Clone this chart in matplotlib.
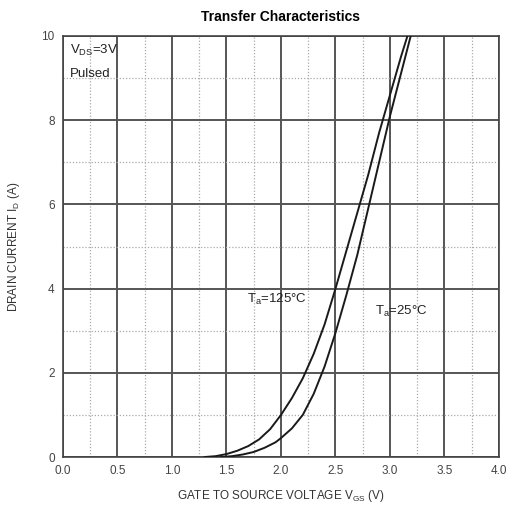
import numpy as np
import matplotlib
matplotlib.use("Agg")
import matplotlib.pyplot as plt
from matplotlib.ticker import MultipleLocator

plt.rcParams["font.family"] = ["Liberation Sans", "DejaVu Sans"]
plt.rcParams["mathtext.fontset"] = "custom"
plt.rcParams["mathtext.rm"] = "Liberation Sans"
plt.rcParams["mathtext.it"] = "Liberation Sans"

# ------------------------------------------------------------
# Data
# ------------------------------------------------------------
vgs_125 = [1.30, 1.40, 1.50, 1.60, 1.70, 1.80, 1.90, 2.00, 2.10, 2.20,
           2.30, 2.40, 2.50, 2.60, 2.70, 2.80, 2.90, 3.00, 3.10, 3.16]
id_125 = [0.0, 0.02, 0.07, 0.15, 0.26, 0.42, 0.66, 1.0, 1.4, 1.87,
          2.45, 3.15, 4.0, 4.9, 5.8, 6.7, 7.7, 8.6, 9.5, 10.0]

vgs_25 = [1.45, 1.55, 1.65, 1.75, 1.85, 1.95, 2.00, 2.10, 2.20, 2.30,
          2.40, 2.50, 2.60, 2.70, 2.80, 2.90, 3.00, 3.10, 3.19]
id_25 = [0.0, 0.02, 0.06, 0.12, 0.22, 0.35, 0.45, 0.68, 1.0, 1.5,
         2.15, 2.95, 3.85, 4.8, 5.9, 7.0, 8.1, 9.1, 10.0]

x_ticks = [0.0, 0.5, 1.0, 1.5, 2.0, 2.5, 3.0, 3.5, 4.0]
y_ticks = [0, 2, 4, 6, 8, 10]

# ------------------------------------------------------------
# Figure
# ------------------------------------------------------------
fig = plt.figure(figsize=(5.13, 5.12), dpi=100)
ax = fig.add_axes([0.1228, 0.1074, 0.8499, 0.8223])

ax.plot(vgs_125, id_125, color="#1a1a1a", lw=1.4, zorder=3)
ax.plot(vgs_25, id_25, color="#1a1a1a", lw=1.4, zorder=3)

ax.set_xlim(0, 4)
ax.set_ylim(0, 10)
ax.set_xticks(x_ticks)
ax.set_xticklabels([f"{v:.1f}" for v in x_ticks])
ax.set_yticks(y_ticks)
ax.xaxis.set_minor_locator(MultipleLocator(0.25))
ax.yaxis.set_minor_locator(MultipleLocator(1))

ax.grid(which="major", color="#555555", lw=1.4, ls="-")
ax.grid(which="minor", color="#aaaaaa", lw=0.9, ls=(0, (1, 1.5)))
ax.set_axisbelow(True)

ax.tick_params(which="both", length=0, labelsize=8.5, colors="#444444", pad=6)
for s in ax.spines.values():
    s.set_color("#444444")
    s.set_linewidth(1.2)

ax.set_title("Transfer Characteristics", fontsize=10, fontweight="bold", pad=11)
ax.set_xlabel("GATE TO SOURCE VOLTAGE V$_{GS}$ (V)", fontsize=8.5, color="#333333", labelpad=8)
ax.set_ylabel("DRAIN CURRENT I$_D$ (A)", fontsize=8.5, color="#333333", labelpad=14)

txt = dict(fontsize=9.5, color="#222222")
ax.text(0.06, 9.65, "V$_{DS}$=3V", va="center", **txt)
ax.text(0.06, 9.1, "Pulsed", va="center", **txt)
ax.text(1.69, 3.75, "T$_a$=125°C", va="center", **txt)
ax.text(2.86, 3.45, "T$_a$=25°C", va="center", **txt)

fig.savefig("out.png", dpi=100)
